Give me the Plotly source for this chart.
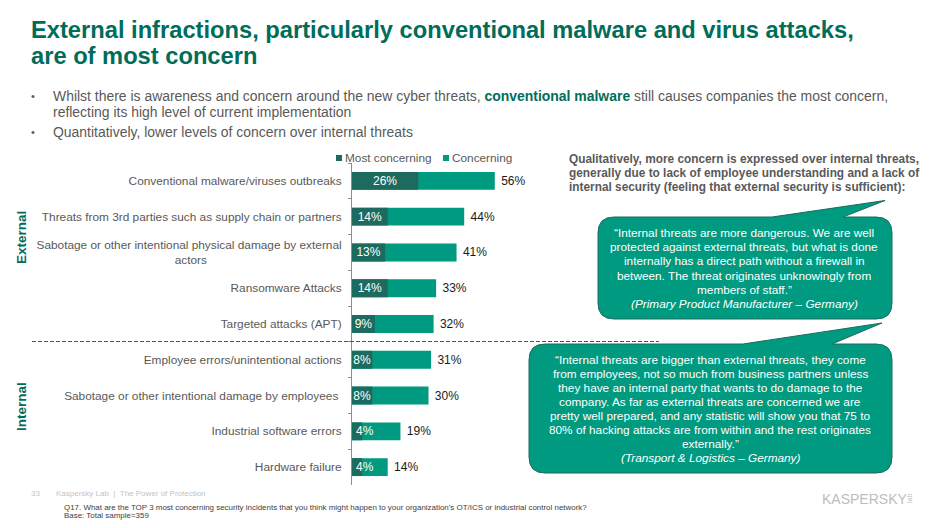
#!/usr/bin/env python3
"""Kaspersky survey slide: concern over security incidents, dark share on a total bar."""
import plotly.graph_objects as go

# the page body keeps an 8px margin, so the figure is 16px smaller than the window
W, H = 936, 520
PAGE_MARGIN = 8
FONT = "Liberation Sans"
DARK = "#1c6b5e"
TEAL = "#009a80"
TITLE = "#006d5b"
GREY = "#595959"

categories = [
    "Conventional malware/viruses outbreaks",
    "Threats from 3rd parties such as supply chain or partners",
    "Sabotage or other intentional physical damage by external<br>actors" + "\u00a0" * 41,
    "Ransomware Attacks",
    "Targeted attacks (APT)",
    "Employee errors/unintentional actions",
    "Sabotage or other intentional damage by employees\u00a0",
    "Industrial software errors",
    "Hardware failure",
]
most_concerning = [26, 14, 13, 14, 9, 8, 8, 4, 4]
concerning_total = [56, 44, 41, 33, 32, 31, 30, 19, 14]

title_lines = [
    "External infractions, particularly conventional malware and virus attacks,",
    "are of most concern",
]
bullet_lines = [
    "Whilst there is awareness and concern around the new cyber threats, "
    f'<b><span style="color:{TITLE}">conventional malware</span></b> still causes companies the most concern,',
    "reflecting its high level of current implementation",
    "Quantitatively, lower levels of concern over internal threats",
]
side_lines = [
    "Qualitatively, more concern is expressed over internal threats,",
    "generally due to lack of employee understanding and a lack of",
    "internal security (feeling that external security is sufficient):",
]
quote_one = [
    "\u201cInternal threats are more dangerous. We are well",
    "protected against external threats, but what is done",
    "internally has a direct path without a firewall in",
    "between. The threat originates unknowingly from",
    "members of staff.\u201d",
    "<i>(Primary Product Manufacturer \u2013 Germany)</i>",
]
quote_two = [
    "\u201cInternal threats are bigger than external threats, they come",
    "from employees, not so much from business partners unless",
    "they have an internal party that wants to do damage to the",
    "company. As far as external threats are concerned we are",
    "pretty well prepared, and any statistic will show you that 75 to",
    "80% of hacking attacks are from within and the rest originates",
    "externally.\u201d",
    "<i>(Transport &amp; Logistics \u2013 Germany)</i>",
]


def fx(x):
    return (x - PAGE_MARGIN) / W


def fy(y):
    return 1 - (y - PAGE_MARGIN) / H


def note(x, y, text, size=12, color=GREY, anchor="left", angle=0):
    # annotation boxes pad their text by about 2px on the anchored side
    xshift = -2 if anchor == "left" else 0
    fig.add_annotation(
        xref="paper", yref="paper", x=fx(x), y=fy(y), text=text, showarrow=False,
        xanchor=anchor, yanchor="middle", textangle=angle, xshift=xshift,
        font=dict(family=FONT, size=size, color=color),
    )


def bubble(x0, y0, x1, y1, tail, r=16):
    # rounded box with the speech tail cut into its top edge
    tx0, tipx, tipy, tx1 = tail
    pts = [
        f"M{fx(x0 + r)},{fy(y0)}", f"L{fx(tx0)},{fy(y0)}", f"L{fx(tipx)},{fy(tipy)}",
        f"L{fx(tx1)},{fy(y0)}", f"L{fx(x1 - r)},{fy(y0)}",
        f"Q{fx(x1)},{fy(y0)} {fx(x1)},{fy(y0 + r)}", f"L{fx(x1)},{fy(y1 - r)}",
        f"Q{fx(x1)},{fy(y1)} {fx(x1 - r)},{fy(y1)}", f"L{fx(x0 + r)},{fy(y1)}",
        f"Q{fx(x0)},{fy(y1)} {fx(x0)},{fy(y1 - r)}", f"L{fx(x0)},{fy(y0 + r)}",
        f"Q{fx(x0)},{fy(y0)} {fx(x0 + r)},{fy(y0)}", "Z",
    ]
    fig.add_shape(
        type="path", xref="paper", yref="paper", path=" ".join(pts),
        fillcolor=TEAL, line=dict(color=DARK, width=1),
    )


def legend_key(x, label, color):
    # plotly's own legend keeps too wide a gap between swatch and text
    fig.add_shape(
        type="rect", xref="paper", yref="paper", x0=fx(x), x1=fx(x + 6), y0=fy(161), y1=fy(155),
        fillcolor=color, line=dict(width=0),
    )
    note(x + 9, 158, label, size=11.8)


fig = go.Figure()

# Totals go underneath, the darker share is drawn over them
fig.add_trace(go.Bar(
    y=categories, x=concerning_total, orientation="h", name="Concerning",
    marker=dict(color=TEAL, line=dict(width=0)), width=0.5,
    text=[f"\u00a0{v}%" for v in concerning_total], textposition="outside", cliponaxis=False,
    textfont=dict(family=FONT, size=12, color="#1a1a1a"),
))
fig.add_trace(go.Bar(
    y=categories, x=most_concerning, orientation="h", name="Most concerning",
    marker=dict(color=DARK, line=dict(width=0)), width=0.5,
    text=[f"{v}%" if v > 4 else "" for v in most_concerning],
    textposition="inside", insidetextanchor="middle", constraintext="none", textangle=0,
    insidetextfont=dict(family=FONT, size=12, color="white"),
))

fig.update_layout(
    width=W, height=H, margin=dict(l=0, r=0, t=0, b=0),
    paper_bgcolor="white", plot_bgcolor="white",
    barmode="overlay", showlegend=False,
    font=dict(family=FONT, size=12, color=GREY),
    xaxis=dict(domain=[fx(352), fx(607)], range=[0, 100], visible=False),
    yaxis=dict(
        domain=[fy(485), fy(163)], type="category", autorange="reversed",
        showline=True, linecolor="#8c8c8c", linewidth=1, ticks="outside", tickson="boundaries",
        ticklen=3, tickcolor="#8c8c8c", ticklabelstandoff=7, showgrid=False,
        tickfont=dict(family=FONT, size=11.83, color=GREY), automargin=False,
    ),
)

legend_key(336, "Most concerning", DARK)
legend_key(443, "Concerning", TEAL)

# The two 4% labels sit right of their narrow dark segments
for cat, v in zip(categories, most_concerning):
    if v <= 4:
        fig.add_annotation(
            xref="x", yref="y", x=v / 2, y=cat, text=f"{v}%", showarrow=False, xshift=8,
            font=dict(family=FONT, size=12, color="white"),
        )

for i, line in enumerate(title_lines):
    note(31, 30 + i * 26, f"<b>{line}</b>", size=23.7, color=TITLE)

for y, line in zip([96, 112, 132], bullet_lines):
    note(53, y, line, size=13.95)
for y in [96, 132]:
    note(31, y, "\u2022", size=11)

for i, line in enumerate(side_lines):
    note(569, 159 + i * 14, f"<b>{line}</b>", size=11.85)

fig.add_shape(
    type="line", xref="paper", yref="paper", x0=fx(32), x1=fx(659), y0=fy(341.5), y1=fy(341.5),
    line=dict(color=DARK, width=1, dash="4px,2px"),
)

bubble(598, 217, 892, 319, (772, 885, 200.5, 843))
bubble(529, 344, 892, 473, (743, 882, 323, 832))
for i, line in enumerate(quote_one):
    note(744, 233 + i * 14.2, line, size=11.8, color="white", anchor="center")
for i, line in enumerate(quote_two):
    note(710, 360 + i * 14.05, line, size=11.8, color="white", anchor="center")

note(21, 238, "<b>External</b>", size=13.5, color=TITLE, anchor="center", angle=-90)
note(21, 407, "<b>Internal</b>", size=13.5, color=TITLE, anchor="center", angle=-90)

note(31, 493, "33", size=8, color="#c4c4c4")
note(56, 493, "Kaspersky Lab  |  The Power of Protection", size=8, color="#c4c4c4")
note(63.5, 507, "Q17. What are the TOP 3 most concerning security incidents that you think might happen "
                "to your organization\u2019s OT/ICS or industrial control network?", size=7.95, color="#404040")
note(63.5, 515.5, "Base: Total sample=359", size=7.95, color="#404040")

note(822, 499, "KASPERSKY", size=14, color="#bdbdbd")
note(909, 499, "lab", size=7, color="#bdbdbd", anchor="center", angle=-90)

fig.write_html("out.html")
